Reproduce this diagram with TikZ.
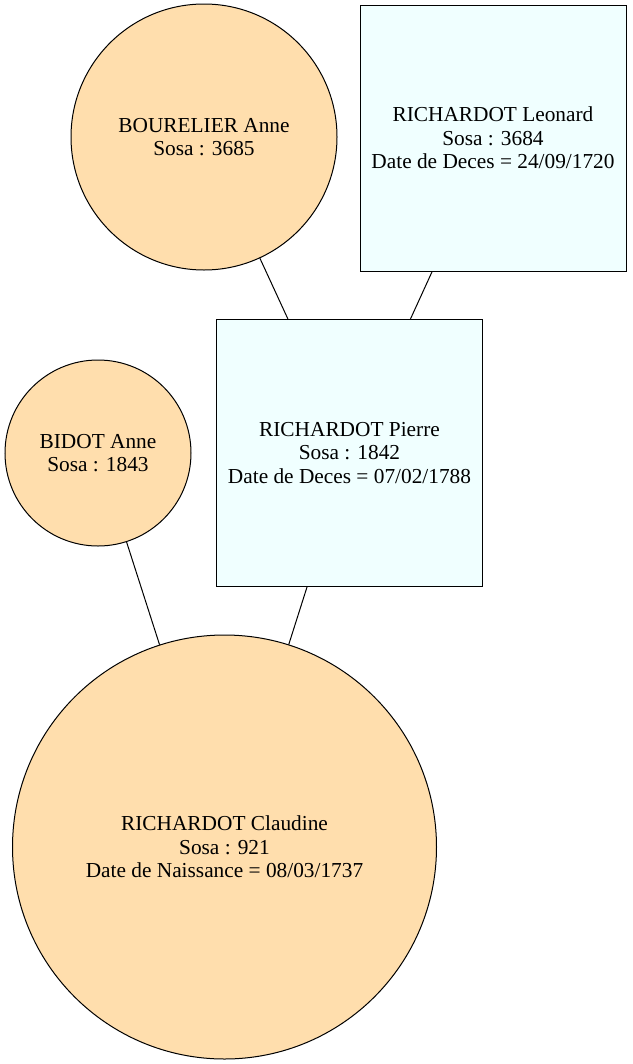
\documentclass[tikz,border=0pt]{standalone}
\usepackage{fontspec}
\setmainfont{Liberation Serif}
\usepackage{tikz}
\definecolor{femfill}{HTML}{FFDEAD}
\definecolor{homfill}{HTML}{F0FFFF}
\tikzset{
  femme/.style={circle,draw=black,line width=0.75pt,fill=femfill,align=center,inner sep=0pt,font=\fontsize{16pt}{17.6pt}\selectfont},
  homme/.style={rectangle,draw=black,line width=0.75pt,fill=homfill,align=center,inner sep=0pt,font=\fontsize{16pt}{17.6pt}\selectfont},
  lien/.style={draw=black,line width=0.75pt}
}
\begin{document}
\begin{tikzpicture}[x=0.75pt,y=-0.75pt]
\useasboundingbox (0,0) rectangle (632,1064);
\node[femme,minimum size=199.5pt] (anne3685) at (204,137) {BOURELIER Anne\\Sosa : 3685};
\node[homme,minimum size=199.5pt] (leonard3684) at (493,138) {RICHARDOT Leonard\\Sosa : 3684\\Date de Deces = 24/09/1720};
\node[homme,minimum size=200pt] (pierre1842) at (349.5,453) {RICHARDOT Pierre\\Sosa : 1842\\Date de Deces = 07/02/1788};
\node[femme,minimum size=139.5pt] (anne1843) at (98,453) {BIDOT Anne\\Sosa : 1843};
\node[femme,minimum size=318pt] (claudine921) at (224.5,847) {RICHARDOT Claudine\\Sosa : 921\\Date de Naissance = 08/03/1737};
\draw[lien] (anne3685) -- (pierre1842);
\draw[lien] (leonard3684) -- (pierre1842);
\draw[lien] (anne1843) -- (claudine921);
\draw[lien] (pierre1842) -- (claudine921);
\end{tikzpicture}
\end{document}
